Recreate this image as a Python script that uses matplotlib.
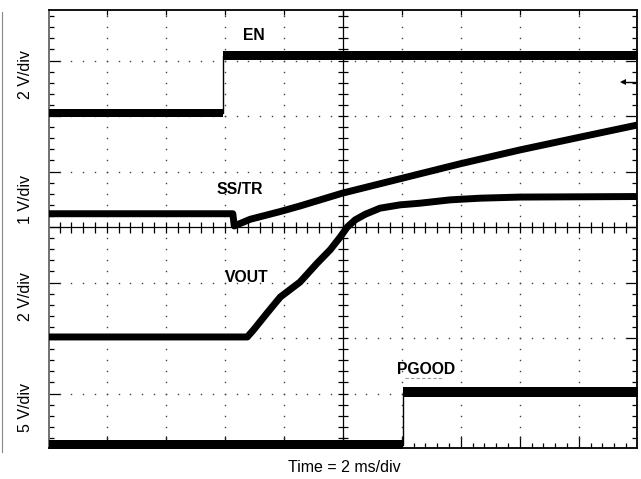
import numpy as np
import matplotlib
matplotlib.use("Agg")
import matplotlib.pyplot as plt
from matplotlib.lines import Line2D

plt.rcParams["font.family"] = ["Liberation Sans", "DejaVu Sans"]

# ── Scope traces: time in ms (2 ms/div), level in screen divisions ──
en_t   = [0.0, 5.93, 5.93, 20.0]
en_v   = [2.05, 2.05, 3.09, 3.09]

ss_t   = [0.0, 6.27, 6.32, 6.86, 7.88, 8.55, 9.98, 12.62, 13.98, 16.01, 18.04, 20.0]
ss_v   = [0.24, 0.24, 0.02, 0.14, 0.28, 0.38, 0.61, 0.96, 1.14, 1.39, 1.62, 1.84]

vout_t = [0.0, 6.76, 6.96, 7.43, 7.88, 8.55, 9.13, 9.57, 9.91, 10.15, 10.42,
          10.76, 11.26, 11.94, 12.62, 13.64, 14.65, 16.01, 20.0]
vout_v = [-1.98, -1.98, -1.86, -1.55, -1.26, -0.99, -0.65, -0.41, -0.18, 0.0, 0.13,
          0.23, 0.34, 0.40, 0.43, 0.49, 0.52, 0.54, 0.55]

pg_t   = [0.0, 12.04, 12.04, 20.0]
pg_v   = [-3.93, -3.93, -2.97, -2.97]

# step traces: half-thickness of the noise band (div)
en_h, pg_h = 0.075, 0.095

ch_labels = ["EN", "SS/TR", "VOUT", "PGOOD"]
ch_label_pos = [(254, 35), (240, 189), (247, 277), (426, 370)]   # px
scale_labels = ["2 V/div", "1 V/div", "2 V/div", "5 V/div"]
scale_label_y = [75, 199, 297, 407]                              # px
ref_marker_v = 2.61

W, H = 641, 479
fig = plt.figure(figsize=(W / 100, H / 100), dpi=100)
ax = fig.add_axes([49 / W, (H - 448) / H, 588 / W, 438 / H])
ax.set_xlim(0.04, 19.97)
ax.set_ylim(-3.98, 3.91)

# ── graticule ──
dot_kw = dict(ls="none", marker="s", ms=1.0, color="#404040", mew=0)
for gx in np.arange(2, 20, 2):
    if gx == 10:
        continue
    ys = np.arange(-4, 4.01, 0.2)
    ax.plot(np.full_like(ys, gx), ys, **dot_kw)
for gy in [-3, -2, -1, 1, 2, 3]:
    xs = np.arange(0, 20.01, 0.4)
    ax.plot(xs, np.full_like(xs, gy), **dot_kw)

ax.axhline(0, color="black", lw=0.9)
ax.axvline(10, color="black", lw=0.9)
xt = np.arange(0.4, 20, 0.4)
ax.vlines(xt, -0.1, 0.1, color="black", lw=0.9)
yt = np.arange(-3.8, 3.9, 0.2)
ax.hlines(yt, 10 - 0.17, 10 + 0.17, color="black", lw=0.9)

# top border ticks (major only)
ax.vlines(np.arange(2, 20, 2), 3.91 - 0.09, 3.91, color="black", lw=0.9)

ax.set_xticks(np.arange(2, 20, 2))
ax.set_xticks(np.arange(0.4, 20, 0.4), minor=True)
ax.set_yticks(np.arange(-3, 4, 1))
ax.set_yticks(np.arange(-3.8, 3.9, 0.2), minor=True)
ax.tick_params(which="both", direction="in", labelleft=False, labelbottom=False,
               left=True, right=True, bottom=True, top=False, width=0.9, color="black")
ax.tick_params(axis="y", which="major", length=8)
ax.tick_params(axis="y", which="minor", length=3.6)
ax.tick_params(axis="x", which="major", length=8.6)
ax.tick_params(axis="x", which="minor", length=3.6)
for side, sp in ax.spines.items():
    sp.set_linewidth(1.4)
    sp.set_color("#111111")
ax.spines["left"].set_color("#707070")

# ── traces ──
# EN / PGOOD: thick band on the levels, thin edge on the step
for t, v, h in [(en_t, en_v, en_h), (pg_t, pg_v, pg_h)]:
    t = np.asarray(t)
    v = np.asarray(v)
    ax.fill_between(t, v - h, v + h, color="black", lw=0, zorder=3)
    ax.plot(t, v, color="black", lw=1.0, zorder=3)

# SS/TR and VOUT ramps: heavy stroke
for t, v in [(ss_t, ss_v), (vout_t, vout_v)]:
    ax.plot(t, v, color="black", lw=5.0, solid_capstyle="butt",
            solid_joinstyle="round", zorder=3)

# reference marker arrow at right edge
ax.plot([19.46, 19.97], [ref_marker_v, ref_marker_v], color="black", lw=1.0)
ax.plot(19.5, ref_marker_v, marker="<", ms=4.5, color="black", mew=0)

# faint dashes under PGOOD label
ax.plot([12.11, 13.36], [-2.72, -2.72], color="#999999", lw=0.8, ls=(0, (3, 2)))

for txt, (px, py) in zip(ch_labels, ch_label_pos):
    fig.text(px / W, 1 - py / H, txt, ha="center", va="center",
             fontsize=11.3, fontweight="bold")

for txt, py in zip(scale_labels, scale_label_y):
    fig.text(25 / W, 1 - py / H, txt, ha="center", va="center",
             rotation=90, fontsize=11.5)

fig.text(344 / W, 1 - 468 / H, "Time = 2 ms/div", ha="center", va="center",
         fontsize=11.5)

# leftover frame edge of neighbouring capture
fig.add_artist(Line2D([1.8 / W, 1.8 / W], [1 - 12 / H, 1 - 452 / H],
                      color="#888888", lw=0.8, transform=fig.transFigure))

fig.savefig("out.png", dpi=100)
